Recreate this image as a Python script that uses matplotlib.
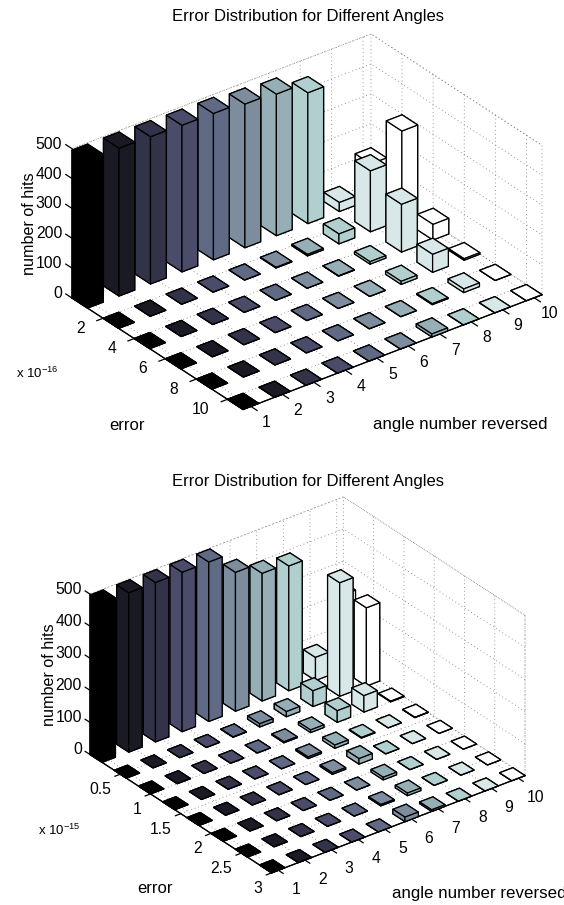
import numpy as np
import matplotlib
matplotlib.use('Agg')
import matplotlib.pyplot as plt
from mpl_toolkits.mplot3d import proj3d

plt.rcParams['font.family'] = ['Liberation Sans', 'DejaVu Sans']
plt.rcParams['mathtext.default'] = 'regular'
plt.rcParams['grid.color'] = '#777777'
plt.rcParams['grid.linewidth'] = 0.6
plt.rcParams['grid.linestyle'] = (0, (1, 3.5))

W, H = 564, 905

angles = [1, 2, 3, 4, 5, 6, 7, 8, 9, 10]
angle_labels = ['1', '2', '3', '4', '5', '6', '7', '8', '9', '10']
bar_colors = ['#000000', '#1a1a24', '#323248', '#4b4b6a', '#616a85',
              '#7d8d9e', '#96afb6', '#b1cfcf', '#d8e7e7', '#ffffff']

# top chart, x 1e-16
errors_top = [0.5, 2.5, 4.5, 6.5, 8.5, 10.5]
error_ticks_top = [2, 4, 6, 8, 10]
error_labels_top = ['2', '4', '6', '8', '10']
hits_top = [
    [495, 495, 493, 491, 490, 481, 474, 438, 30, 119],
    [0, 0, 0, 0, 0, 2, 5, 33, 204, 297],
    [0, 0, 0, 0, 0, 0, 1, 8, 160, 52],
    [0, 0, 0, 0, 0, 0, 0, 10, 60, 5],
    [0, 0, 0, 0, 0, 0, 0, 3, 12, 0],
    [0, 0, 0, 0, 0, 0, 10, 0, 0, 0],
]

# bottom chart, x 1e-15
errors_bottom = [0.1, 0.5, 0.9, 1.3, 1.7, 2.1, 2.5, 2.9]
error_ticks_bottom = [0.5, 1, 1.5, 2, 2.5, 3]
error_labels_bottom = ['0.5', '1', '1.5', '2', '2.5', '3']
hits_bottom = [
    [497, 497, 497, 497, 497, 433, 398, 389, 72, 234],
    [0, 0, 0, 0, 1, 10, 16, 49, 354, 244],
    [0, 0, 0, 0, 0, 3, 8, 36, 51, 2],
    [0, 0, 0, 0, 0, 5, 10, 2, 0, 1],
    [0, 0, 0, 0, 0, 5, 17, 0, 0, 0],
    [0, 0, 0, 0, 0, 0, 8, 0, 0, 0],
    [0, 0, 0, 0, 0, 4, 8, 0, 0, 0],
    [0, 0, 0, 0, 0, 14, 5, 0, 0, 0],
]

hit_ticks = [0, 100, 200, 300, 400, 500]
hit_labels = ['0', '100', '200', '300', '400', '500']
title = 'Error Distribution for Different Angles'

fig = plt.figure(figsize=(W / 100, H / 100), dpi=100)


def corner_px(ax, x, y, z):
    px, py, _ = proj3d.proj_transform(x, y, z, ax.get_proj())
    return ax.transData.transform((px, py))


def draw_panel(errors, ticks, labels, hits, box, corners, zpad, label_shift):
    ax = fig.add_axes([0.1, 0.1, 0.5, 0.5 * W / H], projection='3d')
    ax.computed_zorder = False
    ax.patch.set_alpha(0)
    ax.set_proj_type('ortho')
    ax.view_init(elev=30, azim=-127.5)
    ax.set_box_aspect(box)

    w = 0.5
    dy = (errors[-1] - errors[0]) / (len(errors) - 1)
    # far bars first
    order = 10
    for a in range(len(angles) - 1, -1, -1):
        for e in range(len(errors)):
            order += 1
            ax.bar3d(angles[a] - w / 2, errors[e] - w * dy / 2, 0, w, w * dy, hits[e][a],
                     color=bar_colors[a], edgecolor='k', linewidth=0.9, shade=False,
                     zorder=order)

    xlim = (angles[0] - w / 2, angles[-1] + w / 2)
    ylim = (errors[-1] + w * dy / 2, errors[0] - w * dy / 2)
    ax.set_xticks(angles)
    ax.set_xticklabels(angle_labels, ha='center', va='bottom')
    ax.set_yticks(ticks)
    ax.set_yticklabels([])
    ax.set_zticks(hit_ticks)
    ax.set_zticklabels(hit_labels, ha='right', va='baseline')
    ax.tick_params(axis='both', labelsize=11.3)
    ax.tick_params(axis='x', pad=8.5)
    ax.tick_params(axis='z', pad=zpad)

    for axis in (ax.xaxis, ax.yaxis, ax.zaxis):
        axis.set_pane_color((1, 1, 1, 1))
        axis.pane.set_edgecolor('#777777')
        axis.pane.set_linestyle((0, (1, 3.5)))
        axis.pane.set_linewidth(0.6)
        axis._axinfo['tick']['inward_factor'] = 0.0
        axis._axinfo['tick']['outward_factor'] = 0.0

    # axis lines and tick marks
    kw = dict(color='k', linewidth=0.9, zorder=5)
    ax.plot(xlim, [ylim[0], ylim[0]], [0, 0], **kw)
    ax.plot([xlim[0], xlim[0]], ylim, [0, 0], **kw)
    for x in angles:
        ax.plot([x, x], [ylim[0], ylim[0] + 0.2 * dy], [0, 0], **kw)
    for y in ticks:
        ax.plot([xlim[0], xlim[0] - 0.2], [y, y], [0, 0], **kw)
    for z in hit_ticks:
        ax.plot([xlim[0], xlim[0]], [ylim[1], ylim[1] - 0.2 * dy], [z, z], **kw)
    ax.set_xlim(*xlim, view_margin=0)
    ax.set_ylim(*ylim, view_margin=0)
    ax.set_zlim(0, 500, view_margin=0)

    # line the floor up with the reference
    fig.canvas.draw()
    left, right = corners
    pos = ax.get_position()
    size = pos.width * W
    cx, cy = (pos.x0 + pos.width / 2) * W, (pos.y0 + pos.height / 2) * H
    p0 = corner_px(ax, xlim[0], ylim[1], 0)
    p1 = corner_px(ax, xlim[1], ylim[0], 0)
    scale = (right[0] - left[0]) / (p1[0] - p0[0])
    new_size = size * scale
    ncx = left[0] - (p0[0] - cx) * scale
    ncy = (H - left[1]) - (p0[1] - cy) * scale
    ax.set_position([(ncx - new_size / 2) / W, (ncy - new_size / 2) / H,
                     new_size / W, new_size / H])

    # error tick labels hang off the axis by a fixed pixel shift
    fig.canvas.draw()
    for y, s in zip(ticks, labels):
        px = corner_px(ax, xlim[0], y, 0)
        fig.text((px[0] + label_shift[0]) / W, (px[1] - label_shift[1]) / H, s,
                 fontsize=11.3, ha='right', va='center')
    return ax


draw_panel(errors_top, error_ticks_top, error_labels_top, hits_top,
           (377, 281, 172.5), ((72, 298), (542, 296)), -4.2, (-18, 10))
draw_panel(errors_bottom, error_ticks_bottom, error_labels_bottom, hits_bottom,
           (319, 298, 185), ((90, 754.5), (525, 776)), -4.8, (-9, 15.5))


def label(x, y, s, **kw):
    fig.text(x / W, 1 - y / H, s, ha='center', va='center', **kw)


label(308.5, 16, title, fontsize=12)
label(308.5, 481, title, fontsize=12)
label(29, 224, 'number of hits', fontsize=11.6, rotation=90)
label(50, 675, 'number of hits', fontsize=11.6, rotation=90)
label(37, 373, 'x 10$^{-16}$', fontsize=9.5)
label(59, 830, 'x 10$^{-15}$', fontsize=9.5)
label(127, 425, 'error', fontsize=12)
label(155, 888, 'error', fontsize=12)
label(460, 424, 'angle number reversed', fontsize=12.2)
fig.text(392 / W, 1 - 893 / H, 'angle number reversed', fontsize=12.2, ha='left', va='center')

fig.savefig('out.png', dpi=100)
